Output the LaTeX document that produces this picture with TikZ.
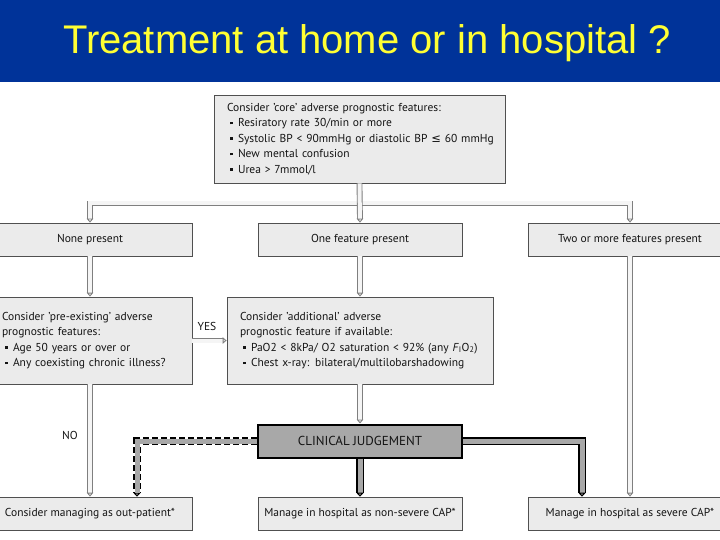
\documentclass[tikz,border=0pt]{standalone}
\usepackage{fontspec}
\setmainfont{PT Sans}
\newfontfamily\titlefont{Liberation Sans}
\newfontfamily\symbfont{DejaVu Sans}
\usetikzlibrary{arrows.meta}

\definecolor{titleblue}{HTML}{003399}
\definecolor{titleyellow}{HTML}{FFFF33}
\definecolor{boxfill}{HTML}{EBEBEB}
\definecolor{boxline}{HTML}{505050}
\definecolor{boxtext}{HTML}{141414}
\definecolor{pipeline}{HTML}{7F7F7F}
\definecolor{pipefill}{HTML}{F5F5F5}
\definecolor{judgefill}{HTML}{A8A8A8}

\newcommand\featbullet{\hspace*{3pt}\makebox[8pt][l]{\raisebox{2.5pt}{\rule{2.5pt}{2.5pt}}}}

\tikzset{
  box/.style={draw=boxline, fill=boxfill, line width=0.8pt, text=boxtext, inner sep=0pt},
  rowbox/.style={box, minimum width=204pt, minimum height=33pt},
  listbox/.style={box, align=left, inner xsep=14pt, minimum height=87pt},
  judgebox/.style={rowbox, draw=black, fill=judgefill, line width=2pt, font=\fontsize{13}{15}\selectfont},
  pathlabel/.style={text=boxtext},
  pipe/.style={draw=pipeline, double=pipefill, double distance=4pt, line width=0.9pt,
    >={Triangle[length=4pt, width=6.5pt, fill=pipefill]}},
  boldpipe/.style={draw=black, double=judgefill, double distance=5pt, line width=1.2pt,
    >={Triangle[length=4pt, width=7.5pt, fill=judgefill]}},
  dashpipe/.style={boldpipe, dash pattern=on 6pt off 3pt,
    postaction={draw=judgefill, solid, line width=5pt, arrows=-, shorten >=4pt}}
}

\begin{document}
\begin{tikzpicture}[x=1pt, y=-1pt, font=\fontsize{11.5}{15.5}\selectfont]

  \useasboundingbox[fill=white] (0,0) rectangle (720,540);
  \fill[titleblue] (0,0) rectangle (720,82);
  \node[anchor=base, text=titleyellow, font=\titlefont\fontsize{40}{48}\selectfont] (title) at (367,54)
    {Treatment at home or in hospital ?};

  \node[listbox, text width=265pt, inner xsep=13pt, minimum height=88pt] (core) at (359.5,139)
    {Consider 'core' adverse prognostic features:\\
     \featbullet Resiratory rate 30/min or more\\
     \featbullet \mbox{Systolic BP < 90mmHg or diastolic BP {\symbfont ≤} 60 mmHg}\\
     \featbullet New mental confusion\\
     \featbullet Urea > 7mmol/l};

  \node[rowbox] (none) at (90,239.5) {None present};
  \node[rowbox] (one) at (360,239.5) {One feature present};
  \node[rowbox] (two) at (630,239.5) {Two or more features present};

  \node[listbox, text width=176pt] (preex) at (90,340.5)
    {Consider 'pre-existing' adverse\\
     prognostic features:\\
     \featbullet Age 50 years or over or\\
     \featbullet Any coexisting chronic illness?};
  \node[listbox, text width=240pt, inner xsep=13pt] (addl) at (360,340.5)
    {Consider 'additional' adverse\\
     prognostic feature if available:\\
     \featbullet PaO2 < 8kPa/ O2 saturation < 92\% (any \textit{F}\textsubscript{I}O\textsubscript{2})\\
     \featbullet Chest x-ray: bilateral/multilobarshadowing};

  \node[judgebox] (judge) at (360,441) {CLINICAL JUDGEMENT};

  \node[rowbox] (outp) at (90,513.5) {Consider managing as out-patient*};
  \node[rowbox] (nonsev) at (360,513.5) {Manage in hospital as non-severe CAP*};
  \node[rowbox] (sev) at (630,513.5) {Manage in hospital as severe CAP*};

  \node[pathlabel] (yes) at (207,326) {YES};
  \node[pathlabel] (no) at (70,435) {NO};

  % grey pipes
  \coordinate (bus) at (360,203.5);
  \draw[pipe, <->] (none.north) |- (bus) -| (two.north);
  \draw[pipe, ->] (core.south) -- (one.north);
  \draw[pipe, ->] (none.south) -- (preex.north);
  \draw[pipe, ->] (one.south) -- (addl.north);
  \draw[pipe, ->] (preex.east) -- (addl.west);
  \draw[pipe, ->] (preex.south) -- (outp.north);
  \draw[pipe, ->] (addl.south) -- (judge.north);
  \draw[pipe, ->] (two.south) -- (sev.north);

  % pipes out of the judgement box
  \draw[boldpipe, ->] (judge.south) -- (nonsev.north);
  \draw[boldpipe, ->] (judge.east) -| ([xshift=-48pt]sev.north);
  \draw[dashpipe, ->] (judge.west) -| ([xshift=47pt]outp.north);
\end{tikzpicture}
\end{document}
